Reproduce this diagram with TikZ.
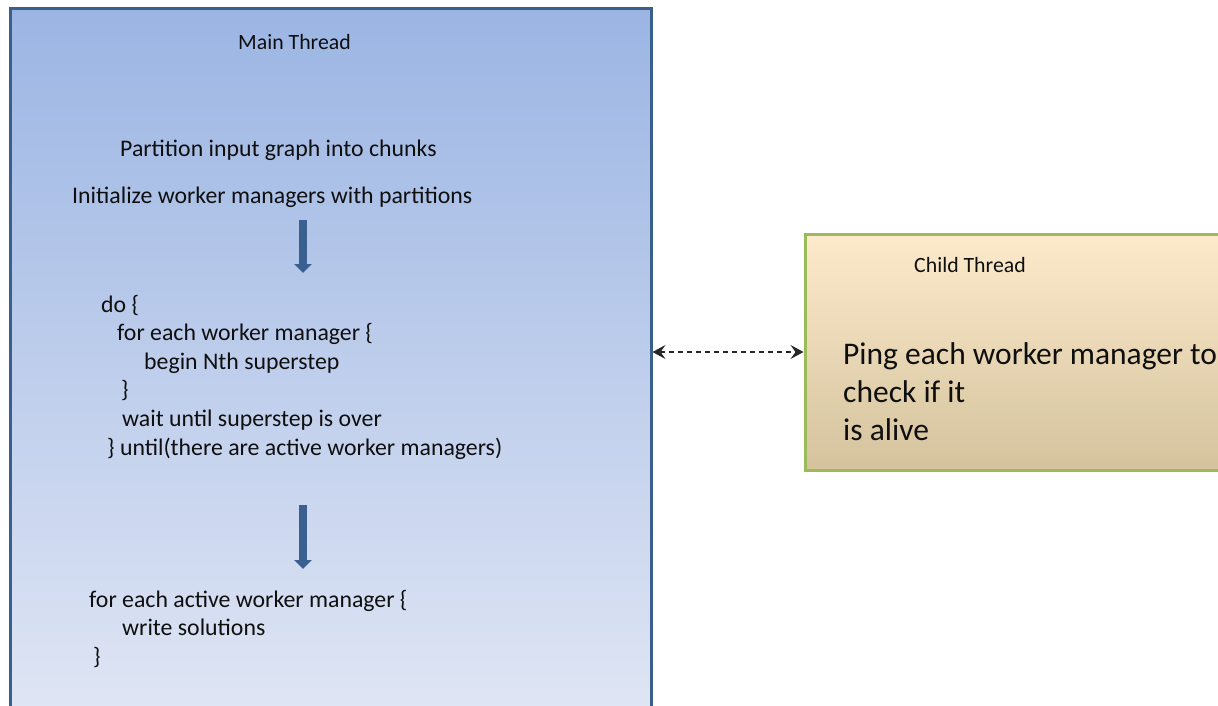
\documentclass[tikz,border=0pt]{standalone}
\usepackage{fontspec}
\setmainfont{Carlito}
\usetikzlibrary{arrows.meta}
\definecolor{mainborder}{RGB}{58,95,140}
\definecolor{maintop}{RGB}{155,181,227}
\definecolor{mainbot}{RGB}{223,229,244}
\definecolor{childborder}{RGB}{155,187,89}
\definecolor{childtop}{RGB}{253,234,204}
\definecolor{childmid}{RGB}{244,238,220}
\definecolor{childbot}{RGB}{212,195,157}
\definecolor{arrowblue}{RGB}{58,95,145}
\definecolor{txt}{RGB}{15,15,15}
\tikzset{
  mainbox/.style={draw=mainborder, line width=3pt, top color=maintop, bottom color=mainbot, inner sep=0pt},
  childbox/.style={draw=childborder, line width=3pt, top color=childtop, middle color=childmid, bottom color=childbot, inner sep=0pt},
  bodytext/.style={anchor=base west, inner sep=0pt, text=txt, font=\fontsize{23.8}{28.7}\selectfont},
  headtext/.style={anchor=base west, inner sep=0pt, text=txt, font=\fontsize{21.8}{26}\selectfont},
  bigtext/.style={anchor=base west, inner sep=0pt, text=txt, font=\fontsize{31.5}{38}\selectfont},
  flowarrow/.style={draw=arrowblue, line width=8pt, -{Triangle[length=9pt, width=17pt]}},
  linkarrow/.style={draw=black!85, line width=1.3pt, dash pattern=on 5pt off 4pt, {Stealth[length=13pt, width=14pt, inset=5pt]}-{Stealth[length=13pt, width=14pt, inset=5pt]}}
}
\begin{document}
\begin{tikzpicture}[x=1pt, y=-1pt]
\useasboundingbox (0,0) rectangle (1218,705);
\clip (0,0) rectangle (1218,705);
% boxes
\node[mainbox, minimum width=641pt, minimum height=702pt] (main) at (330.5,359) {};
\node[childbox, minimum width=440pt, minimum height=236pt] (child) at (1025,352) {};
% main texts
\node[headtext] (mt) at (238,49) {Main Thread};
\node[bodytext] (p1) at (120,156) {Partition input graph into chunks};
\node[bodytext] (p2) at (72,203) {Initialize worker managers with partitions};
\node[bodytext] (l1) at (101,312) {do \{};
\node[bodytext] (l2) at (117,340) {for each worker manager \{};
\node[bodytext] (l3) at (144,369) {begin Nth superstep};
\node[bodytext] (l4) at (121,397) {\}};
\node[bodytext] (l5) at (122,426) {wait until superstep is over};
\node[bodytext] (l6) at (107,455) {\} until(there are active worker managers)};
\node[bodytext] (w1) at (89,607) {for each active worker manager \{};
\node[bodytext] (w2) at (122,635) {write solutions};
\node[bodytext] (w3) at (93,664) {\}};
% flow arrows
\coordinate (a1s) at (303,220);
\coordinate (a1e) at (303,273);
\coordinate (a2s) at (303,505);
\coordinate (a2e) at (303,569);
\draw[flowarrow] (a1s) -- (a1e);
\draw[flowarrow] (a2s) -- (a2e);
% child texts
\node[headtext] (ct) at (914,272) {Child Thread};
\node[bigtext] (c1) at (843,364) {Ping each worker manager to};
\node[bigtext] (c2) at (843,402) {check if it};
\node[bigtext] (c3) at (843,440) {is alive};
% link
\draw[linkarrow] (main.east |- 0,352) -- (child.west |- 0,352);
\end{tikzpicture}
\end{document}
